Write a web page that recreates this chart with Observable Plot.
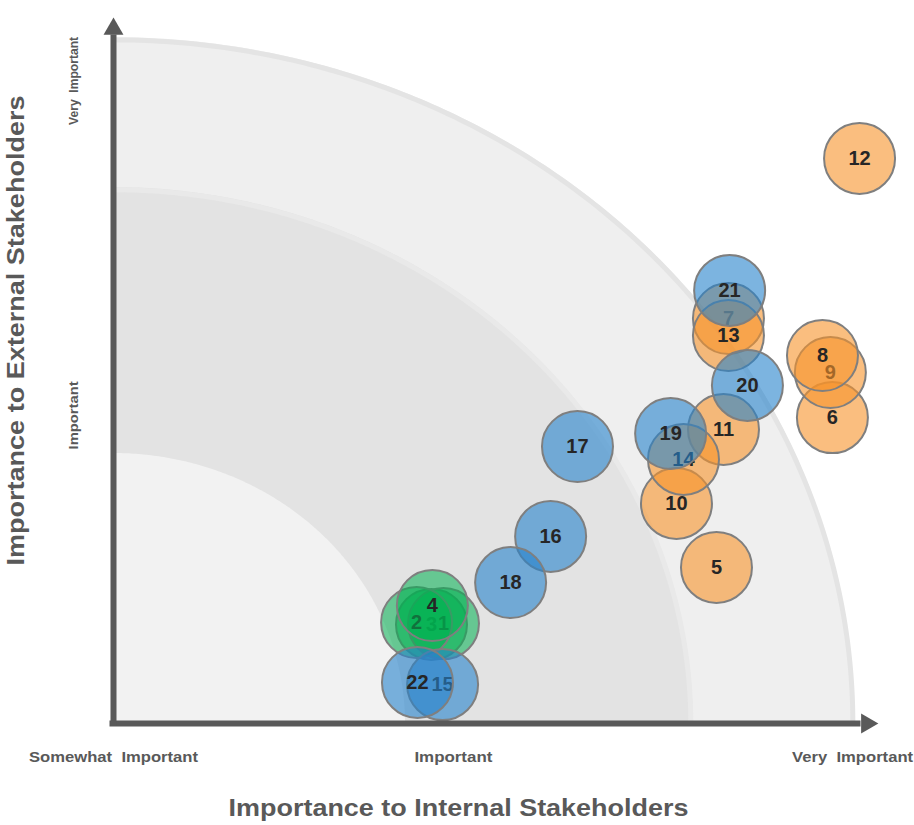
<!DOCTYPE html>
<html>
<head>
<meta charset="utf-8">
<script src="https://cdn.jsdelivr.net/npm/d3@7"></script>
<script src="https://cdn.jsdelivr.net/npm/@observablehq/plot@0.6"></script>
<style>
  html, body { margin: 0; padding: 0; background: #fff; }
  #chart svg { display: block; }
</style>
</head>
<body>
<div id="chart"></div>
<script>
// ---- Data (draw order matters: later bubbles cover earlier labels) ----
const ids      = [3, 1, 2, 4, 5, 6, 9, 8, 7, 10, 11, 12, 13, 14, 15, 16, 17, 18, 19, 20, 21, 22];
const internal = [1.089, 1.130, 1.038, 1.092, 2.065, 2.462, 2.455, 2.428, 2.106, 1.928, 2.089, 2.555, 2.106, 1.952, 1.127, 1.497, 1.589, 1.360, 1.908, 2.171, 2.110, 1.041];
const external = [0.367, 0.370, 0.374, 0.437, 0.578, 1.133, 1.300, 1.363, 1.500, 0.815, 1.089, 2.093, 1.437, 0.978, 0.144, 0.693, 1.026, 0.522, 1.074, 1.252, 1.604, 0.152];
const groups   = ["g", "g", "g", "g", "o", "o", "o", "o", "o", "o", "o", "o", "o", "o", "b", "b", "b", "b", "b", "b", "b", "b"];

const groupKeys   = ["g", "o", "b"];
const groupColors = ["#00b050", "#f7922a", "#2482cc"];
const groupOpac   = [0.55, 0.6, 0.6];

// Background zones (quarter circles), outermost first
const bandRadii   = [2.54, 1.985, 1.0];
const bandFills   = ["#efefef", "#e3e3e3", "#f2f2f2"];
const bandStrokes = ["#e4e4e4", "#e9e9e9", "none"];

// Axis tick labels
const xTickValues = [0, 1.164, 2.531];
const xTickLabels = ["Somewhat  Important", "Important", "Very  Important"];
const xTickWidths = [169, 78, 121];
const yTickValues = [1.141, 2.38];
const yTickLabels = ["Important", "Very  Important"];
const yTickWidths = [68, 88];

const xTitle = "Importance to Internal Stakeholders";
const yTitle = "Importance to External Stakeholders";

// Axis extent (data units)
const axisEnd  = [2.56, 2.55];
const arrowPos = [2.580, 2.572];

// ---- Build tables ----
const items = ids.map((id, i) => ({id, x: internal[i], y: external[i], group: groups[i]}));

function arc(r) {
  const pts = [];
  for (let k = 0; k <= 180; k++) {
    const t = (Math.PI / 2) * (k / 180);
    pts.push({x: r * Math.cos(t), y: r * Math.sin(t)});
  }
  return pts.sort((a, b) => a.x - b.x);
}

const kx = 292, ky = 270, x0 = 113, y0 = 723;
const W = 914, H = 825;
const xMax = 2.7, yMax = 2.6;

const FONT = "'Liberation Sans', Arial, Helvetica, sans-serif";
const GRAY = "#595959";

const marks = [];
bandRadii.forEach((r, i) => {
  marks.push(Plot.areaY(arc(r), {x: "x", y: "y", fill: bandFills[i]}));
  if (bandStrokes[i] !== "none")
    marks.push(Plot.line(arc(r - 0.008), {x: "x", y: "y", stroke: bandStrokes[i], strokeWidth: 5}));
});

items.forEach(d => {
  const gi = groupKeys.indexOf(d.group);
  marks.push(Plot.dot([d], {x: "x", y: "y", r: 35.5, fill: groupColors[gi], fillOpacity: groupOpac[gi],
    stroke: "#7f7f7f", strokeWidth: 2}));
  marks.push(Plot.text([d], {x: "x", y: "y", text: d => String(d.id), fontSize: 20, fontWeight: "bold",
    fill: "#262626", fontFamily: FONT}));
});

// axes: shafts + arrowheads
marks.push(Plot.ruleY([0], {x1: -0.012, x2: axisEnd[0], stroke: GRAY, strokeWidth: 6}));
marks.push(Plot.ruleX([0], {y1: -0.011, y2: axisEnd[1], stroke: GRAY, strokeWidth: 6}));
marks.push(Plot.dot([0], {x: arrowPos[0], y: 0, symbol: "triangle", r: 7.4, rotate: 90, fill: GRAY, stroke: "none"}));
marks.push(Plot.dot([0], {x: 0, y: arrowPos[1], symbol: "triangle", r: 7.4, rotate: 0, fill: GRAY, stroke: "none"}));

// tick labels
marks.push(Plot.axisX(xTickValues, {tickSize: 0, tickPadding: 28, label: null,
  tickFormat: d => xTickLabels[xTickValues.indexOf(d)],
  fontSize: 15, fontWeight: "bold", fill: GRAY, className: "xticks", fontFamily: FONT}));
marks.push(Plot.text(yTickValues, {y: d => d, frameAnchor: "left", dx: -40, rotate: -90,
  textAnchor: "middle", lineAnchor: "middle",
  text: (d, i) => yTickLabels[i], fontSize: 13, fontWeight: "bold", fill: GRAY, className: "yticks", fontFamily: FONT}));

// titles
marks.push(Plot.text([xTitle], {frameAnchor: "bottom", dy: 85, dx: 458 - (x0 + (x0 + xMax * kx)) / 2,
  textAnchor: "middle", lineAnchor: "middle",
  text: d => d, fontSize: 24, fontWeight: "bold", fill: GRAY, className: "xtitle", fontFamily: FONT}));
marks.push(Plot.text([yTitle], {frameAnchor: "left", dx: 16 - x0, dy: 330 - ((y0 - yMax * ky) + y0) / 2, rotate: -90,
  textAnchor: "middle", lineAnchor: "middle",
  text: d => d, fontSize: 24, fontWeight: "bold", fill: GRAY, className: "ytitle", fontFamily: FONT}));

const chart = Plot.plot({
  width: W, height: H,
  marginLeft: x0, marginRight: W - x0 - xMax * kx,
  marginTop: y0 - yMax * ky, marginBottom: H - y0,
  x: {domain: [0, xMax], axis: null},
  y: {domain: [0, yMax], axis: null},
  style: {background: "#fff", fontFamily: FONT},
  marks
});
document.getElementById("chart").appendChild(chart);

// fit label lengths to the reference's condensed lettering
const fit = (sel, widths) => d3.select(chart).selectAll(sel).each(function(_, i) {
  d3.select(this).attr("textLength", widths[i]).attr("lengthAdjust", "spacingAndGlyphs");
});
fit(".xticks text", xTickWidths);
fit(".yticks text", yTickWidths);
fit(".xtitle text", [460]);
fit(".ytitle text", [470]);
</script>
</body>
</html>
